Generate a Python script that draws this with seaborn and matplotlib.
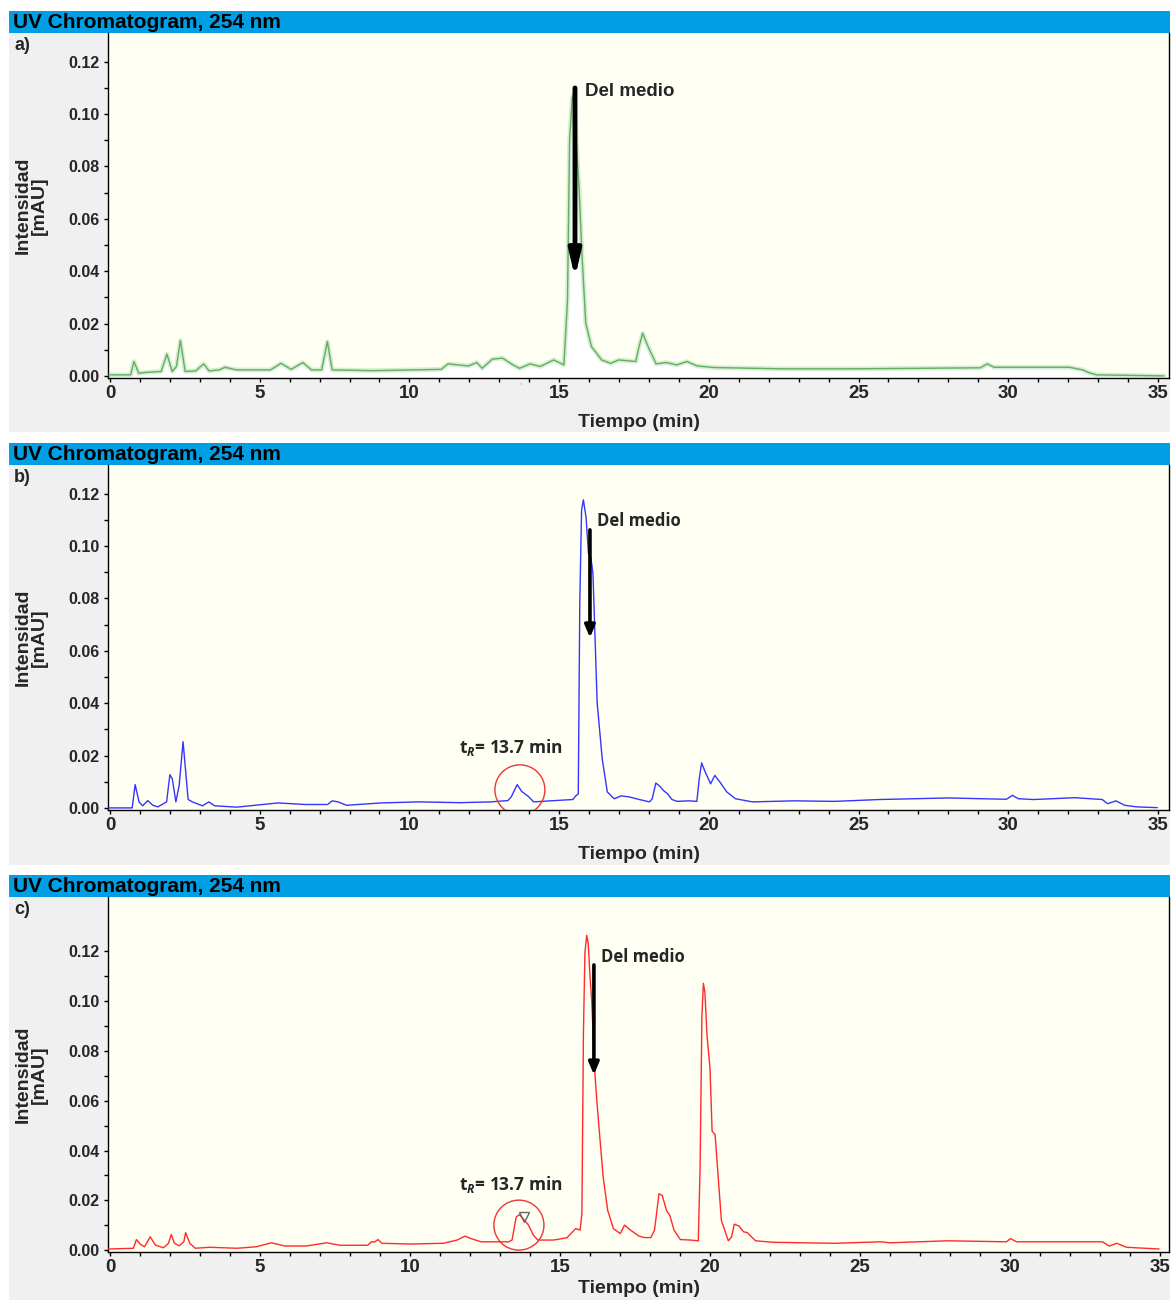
import matplotlib
matplotlib.use("Agg")
import matplotlib.pyplot as plt
import seaborn as sns
from matplotlib.patches import Rectangle, Ellipse, Arc
from matplotlib.ticker import MultipleLocator, FixedLocator, FormatStrFormatter

# ---------------- data ----------------
time_a = [0.0, 0.69, 0.8, 0.96, 1.15, 1.71, 1.9, 2.08, 2.22, 2.35, 2.51, 2.86, 3.13, 3.31, 3.65,
          3.84, 4.22, 5.36, 5.71, 6.05, 6.44, 6.73, 7.07, 7.26, 7.42, 8.78, 11.06, 11.29, 11.97,
          12.25, 12.43, 12.77, 13.11, 13.46, 13.68, 14.03, 14.37, 14.82, 15.16, 15.28, 15.35,
          15.44, 15.5, 15.57, 15.67, 15.76, 15.89, 16.08, 16.42, 16.72, 16.99, 17.56, 17.67,
          17.79, 17.97, 18.24, 18.58, 18.93, 19.27, 19.61, 20.18, 22.46, 24.74, 27.02, 29.07,
          29.3, 29.53, 32.04, 32.49, 32.68, 32.95, 35.2]
intensity_a = [0.0004, 0.0004, 0.0055, 0.001, 0.0013, 0.0017, 0.0083, 0.0017, 0.0036, 0.0135,
               0.0017, 0.0019, 0.0046, 0.0019, 0.0023, 0.0033, 0.0023, 0.0023, 0.0048, 0.0025,
               0.0051, 0.0023, 0.0023, 0.0131, 0.0023, 0.002, 0.0025, 0.0046, 0.0038, 0.0051,
               0.0029, 0.0064, 0.0068, 0.0042, 0.0029, 0.0046, 0.0036, 0.0061, 0.0042, 0.029,
               0.0902, 0.1061, 0.108, 0.09, 0.071, 0.0469, 0.0201, 0.0112, 0.0061, 0.0048,
               0.0061, 0.0055, 0.0112, 0.0163, 0.0112, 0.0046, 0.0051, 0.0042, 0.0055, 0.0038,
               0.0032, 0.0027, 0.0027, 0.0029, 0.0031, 0.0046, 0.0033, 0.0033, 0.0023, 0.0013,
               0.0004, 0.0]

time_b = [-0.05, 0.74, 0.84, 0.97, 1.09, 1.26, 1.43, 1.6, 1.89, 2.0, 2.08, 2.2, 2.31, 2.44, 2.52,
          2.61, 2.75, 3.09, 3.3, 3.49, 4.24, 5.61, 6.53, 7.27, 7.42, 7.62, 7.9, 9.05, 10.31,
          11.68, 12.71, 13.29, 13.4, 13.6, 13.75, 13.97, 14.15, 14.43, 15.0, 15.46, 15.54, 15.64,
          15.69, 15.75, 15.81, 15.9, 15.98, 16.06, 16.13, 16.17, 16.27, 16.44, 16.61, 16.84,
          17.07, 17.34, 17.68, 18.02, 18.11, 18.23, 18.37, 18.48, 18.62, 18.77, 18.94, 19.34,
          19.6, 19.68, 19.76, 19.88, 20.06, 20.2, 20.37, 20.6, 20.89, 21.46, 22.83, 24.21, 25.7,
          27.99, 29.94, 30.14, 30.34, 30.85, 32.23, 33.14, 33.32, 33.6, 33.89, 34.29, 34.98]
intensity_b = [0.0, 0.0, 0.0089, 0.0023, 0.0008, 0.0028, 0.001, 0.0004, 0.0023, 0.0127, 0.0111,
               0.0023, 0.0086, 0.0253, 0.0149, 0.0032, 0.0023, 0.0008, 0.0023, 0.0008, 0.0003,
               0.0019, 0.0013, 0.0013, 0.0027, 0.0023, 0.001, 0.0019, 0.0023, 0.002, 0.0023,
               0.0028, 0.0042, 0.0089, 0.0063, 0.0044, 0.0023, 0.0025, 0.0029, 0.0032, 0.0044,
               0.0054, 0.078, 0.1137, 0.1177, 0.111, 0.0972, 0.0957, 0.0896, 0.0757, 0.0403,
               0.0187, 0.0061, 0.0035, 0.0046, 0.0042, 0.0032, 0.0023, 0.0035, 0.0095, 0.0082,
               0.0067, 0.0054, 0.0032, 0.0025, 0.0027, 0.0025, 0.0111, 0.0172, 0.0137, 0.0092,
               0.0124, 0.0099, 0.0061, 0.0035, 0.0023, 0.0027, 0.0025, 0.0032, 0.0038, 0.0033,
               0.0048, 0.0035, 0.0032, 0.0039, 0.0032, 0.0016, 0.0027, 0.001, 0.0004, 0.0001]

time_c = [-0.06, 0.78, 0.88, 1.01, 1.15, 1.34, 1.51, 1.78, 1.95, 2.04, 2.15, 2.31, 2.46, 2.52,
          2.66, 2.84, 3.32, 4.24, 4.87, 5.38, 5.84, 6.53, 7.22, 7.67, 8.59, 8.71, 8.82, 8.93,
          9.07, 9.97, 11.11, 11.57, 11.83, 12.03, 12.37, 13.29, 13.4, 13.54, 13.65, 13.77,
          13.95, 14.11, 14.26, 14.78, 15.23, 15.52, 15.67, 15.73, 15.78, 15.83, 15.89, 15.94,
          16.0, 16.06, 16.15, 16.23, 16.32, 16.44, 16.59, 16.78, 17.01, 17.15, 17.35, 17.63,
          17.81, 18.03, 18.15, 18.3, 18.41, 18.55, 18.66, 18.8, 19.01, 19.35, 19.61, 19.67,
          19.73, 19.78, 19.83, 19.9, 20.0, 20.07, 20.17, 20.29, 20.38, 20.61, 20.72, 20.81,
          20.97, 21.12, 21.24, 21.52, 22.1, 24.16, 25.7, 25.99, 27.93, 29.88, 30.01, 30.22,
          33.08, 33.31, 33.56, 33.88, 34.97]
intensity_c = [0.0004, 0.0007, 0.0042, 0.0023, 0.0013, 0.0053, 0.002, 0.0009, 0.0027, 0.0062,
               0.0027, 0.0017, 0.0033, 0.007, 0.0027, 0.0007, 0.0011, 0.0007, 0.0013, 0.0029,
               0.0016, 0.0016, 0.0029, 0.0019, 0.0019, 0.0033, 0.0032, 0.0042, 0.0027, 0.0024,
               0.0027, 0.004, 0.0056, 0.0046, 0.0033, 0.0033, 0.004, 0.0133, 0.0142, 0.0126,
               0.01, 0.006, 0.004, 0.004, 0.0049, 0.0086, 0.008, 0.0146, 0.0863, 0.1194, 0.1265,
               0.1234, 0.1101, 0.0995, 0.073, 0.0597, 0.0464, 0.0292, 0.0159, 0.0086, 0.0066,
               0.01, 0.008, 0.0056, 0.005, 0.005, 0.008, 0.0226, 0.0219, 0.0159, 0.0139, 0.008,
               0.0042, 0.004, 0.0037, 0.0332, 0.0942, 0.1072, 0.1035, 0.0863, 0.073, 0.0478,
               0.0464, 0.0265, 0.0119, 0.0037, 0.0053, 0.0104, 0.0096, 0.0073, 0.007, 0.0037,
               0.0031, 0.0027, 0.0033, 0.0029, 0.0037, 0.0033, 0.0046, 0.0033, 0.0033, 0.0016,
               0.0027, 0.0011, 0.0004]

x_ticks = [0, 5, 10, 15, 20, 25, 30, 35]
y_ticks = [0.00, 0.02, 0.04, 0.06, 0.08, 0.10, 0.12]
header_text = "UV Chromatogram, 254 nm"
panel_labels = ["a)", "b)", "c)"]
arrow_label = "Del medio"
tr_label = r"t$_{R}$= 13.7 min"

# ---------------- style ----------------
sns.set_theme(style="white")
plt.rcParams['font.family'] = ['Liberation Sans', 'DejaVu Sans']
plt.rcParams['mathtext.fontset'] = 'custom'
plt.rcParams['mathtext.rm'] = 'Open Sans:bold'
plt.rcParams['mathtext.it'] = 'Open Sans:italic:bold'

ANNOT_FONT = "Open Sans"

W, H = 1172, 1301
fig = plt.figure(figsize=(W / 100, H / 100), dpi=100)
fig.patch.set_facecolor("white")

HEADER = "#009FE3"
GRAY = "#F0F0F0"
PLOTBG = "#FFFFF4"


def fx(px):
    return px / W


def fy(py):
    return 1 - py / H


def block(top_header, top_gray, bottom_gray, label):
    fig.patches.append(Rectangle((fx(9), fy(bottom_gray)), fx(1170 - 9), (bottom_gray - top_gray) / H,
                                 transform=fig.transFigure, facecolor=GRAY, edgecolor="none", zorder=-5))
    fig.patches.append(Rectangle((fx(9), fy(top_gray)), fx(1170 - 9), (top_gray - top_header) / H,
                                 transform=fig.transFigure, facecolor=HEADER, edgecolor="none", zorder=-5))
    fig.text(fx(13), fy((top_header + top_gray) / 2 + 1), header_text, fontsize=15, fontweight="bold",
             va="center", ha="left", color="black")
    fig.text(fx(14), fy(top_gray + 12), label, fontsize=13, fontweight="bold", va="center", ha="left")


def make_axes(left, top, right, bottom, ylim, xlim, xlabelpad=9):
    ax = fig.add_axes([fx(left), fy(bottom), (right - left) / W, (bottom - top) / H])
    ax.set_facecolor(PLOTBG)
    ax.set_xlim(*xlim)
    ax.set_ylim(*ylim)
    ax.set_xticks(x_ticks)
    ax.xaxis.set_minor_locator(MultipleLocator(1))
    ax.yaxis.set_major_locator(FixedLocator(y_ticks))
    ax.yaxis.set_minor_locator(FixedLocator([0.01, 0.03, 0.05, 0.07, 0.09, 0.11]))
    ax.yaxis.set_major_formatter(FormatStrFormatter("%.2f"))
    ax.tick_params(axis="both", which="both", direction="out", length=3, width=1, color="black")
    ax.tick_params(axis="y", which="both", left=True, labelsize=11.5, pad=3)
    ax.tick_params(axis="x", which="both", bottom=True, labelsize=13.5, pad=2)
    for lab in ax.get_xticklabels() + ax.get_yticklabels():
        lab.set_fontweight("bold")
    for s in ["left", "bottom", "right"]:
        ax.spines[s].set_color("black")
        ax.spines[s].set_linewidth(1)
    ax.spines["top"].set_visible(False)
    ax.set_xlabel("Tiempo (min)", fontsize=14, fontweight="bold", labelpad=xlabelpad)
    ax.set_ylabel("Intensidad\n[mAU]", fontsize=14, fontweight="bold", linespacing=0.95, va="center")
    ax.yaxis.set_label_coords(-(left - 31) / (right - left), 0.5)
    ax.grid(False)
    return ax


# ---------------- panel a ----------------
block(11, 33, 432, panel_labels[0])
axa = make_axes(108, 33, 1169, 378, (-0.0008, 0.131), (-0.067, 35.37))
axa.fill_between(time_a, intensity_a, -0.0008, color="white", zorder=2, lw=0)
sns.lineplot(x=time_a, y=intensity_a, ax=axa, estimator=None, color="#7cc47c", lw=3.4, alpha=0.3, zorder=3)
sns.lineplot(x=time_a, y=intensity_a, ax=axa, estimator=None, color="#3a9a3a", lw=1.0, alpha=0.75, zorder=3)
axa.add_patch(Arc((13.73, 0.0065), 1.67, 0.0191, theta1=232, theta2=308, color="#ee3333", lw=1.2,
                  clip_on=False, zorder=1))
axa.annotate("", xy=(15.53, 0.0374), xytext=(15.53, 0.110),
             arrowprops=dict(arrowstyle="-|>,head_length=1.3,head_width=0.3", lw=3.5, color="black",
                             shrinkA=0, shrinkB=0), zorder=5)
axa.text(15.87, 0.1085, arrow_label, fontsize=13.5, fontweight="bold", ha="left", va="center",
         family="Liberation Sans", zorder=6)

# ---------------- panel b ----------------
block(443, 465, 865, panel_labels[1])
axb = make_axes(108, 465, 1169, 810, (-0.0008, 0.131), (-0.067, 35.37))
sns.lineplot(x=time_b, y=intensity_b, ax=axb, estimator=None, color="#3535ff", lw=1.0, zorder=3)
axb.annotate("", xy=(16.03, 0.065), xytext=(16.03, 0.1062),
             arrowprops=dict(arrowstyle="-|>,head_length=0.6,head_width=0.25", lw=2.6, color="black",
                             shrinkA=0, shrinkB=0), zorder=5)
axb.text(16.27, 0.1096, arrow_label, fontsize=12, fontweight="bold", ha="left", va="center",
         family=ANNOT_FONT, zorder=6)
axb.text(11.66, 0.0229, tr_label, fontsize=12.5, fontweight="bold", ha="left", va="center",
         family=ANNOT_FONT, zorder=6)
axb.add_patch(Ellipse((13.69, 0.0069), 1.67, 0.0191, fill=False, edgecolor="#ee3333", lw=1.0, zorder=4))

# ---------------- panel c ----------------
block(875, 897, 1300, panel_labels[2])
axc = make_axes(108, 897, 1169, 1252, (-0.0008, 0.1419), (-0.067, 35.3), xlabelpad=3)
sns.lineplot(x=time_c, y=intensity_c, ax=axc, estimator=None, color="#ff2a2a", lw=1.0, zorder=3)
axc.annotate("", xy=(16.13, 0.0704), xytext=(16.13, 0.1146),
             arrowprops=dict(arrowstyle="-|>,head_length=0.6,head_width=0.25", lw=2.6, color="black",
                             shrinkA=0, shrinkB=0), zorder=5)
axc.text(16.37, 0.1178, arrow_label, fontsize=12, fontweight="bold", ha="left", va="center",
         family=ANNOT_FONT, zorder=6)
axc.text(11.62, 0.0265, tr_label, fontsize=12.5, fontweight="bold", ha="left", va="center",
         family=ANNOT_FONT, zorder=6)
axc.add_patch(Ellipse((13.63, 0.010), 1.67, 0.0201, fill=False, edgecolor="#ee3333", lw=1.0, zorder=4))
axc.plot([13.8], [0.0133], marker="v", ms=7, mfc="none", mec="#666666", mew=1, zorder=5)

fig.savefig("out.png", dpi=100, facecolor=fig.get_facecolor())
